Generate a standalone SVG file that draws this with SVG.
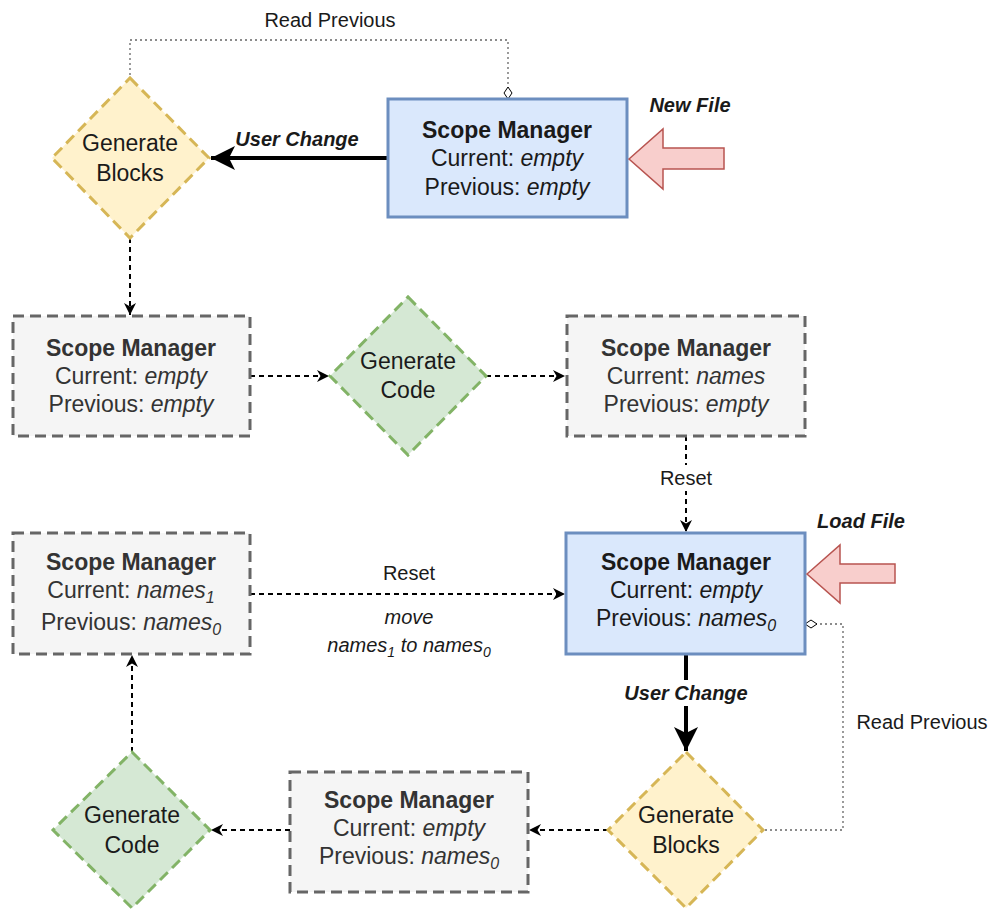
<svg xmlns="http://www.w3.org/2000/svg" width="995" height="911" viewBox="0 0 995 911">
  <style>
    text { font-family: "Liberation Sans", Arial, sans-serif; text-anchor: middle; }
    .n { font-size: 23px; fill: #1a1a1a; }
    .g { font-size: 23px; fill: #333333; }
    .b { font-weight: bold; }
    .i { font-style: italic; }
    .lbl { font-size: 20px; fill: #1a1a1a; }
    .blue { fill: #dae8fc; stroke: #6c8ebf; stroke-width: 3; }
    .gray { fill: #f5f5f5; stroke: #666666; stroke-width: 3; stroke-dasharray: 11 6; }
    .yel { fill: #fff2cc; stroke: #d6b656; stroke-width: 3; stroke-dasharray: 11 6; }
    .grn { fill: #d5e8d4; stroke: #82b366; stroke-width: 3; stroke-dasharray: 11 6; }
    .red { fill: #f8cecc; stroke: #b85450; stroke-width: 1.5; }
    .dash { fill: none; stroke: #000; stroke-width: 2; stroke-dasharray: 5 4; }
    .bold { fill: none; stroke: #000; stroke-width: 4; }
    .dot { fill: none; stroke: #666; stroke-width: 1.3; stroke-dasharray: 2 3; }
  </style>
  <defs>
    <marker id="arr" viewBox="0 0 14 14" refX="13" refY="7" markerWidth="14" markerHeight="14" orient="auto" markerUnits="userSpaceOnUse">
      <path d="M1,1 L13,7 L1,13 L4.5,7 z" fill="#000"/>
    </marker>
    <marker id="arrBig" viewBox="0 0 26 26" refX="25" refY="13" markerWidth="26" markerHeight="26" orient="auto" markerUnits="userSpaceOnUse">
      <path d="M1,1 L25,13 L1,25 L7,13 z" fill="#000"/>
    </marker>
    <marker id="dia" viewBox="0 0 14 10" refX="0.5" refY="5" markerWidth="14" markerHeight="10" orient="auto" markerUnits="userSpaceOnUse">
      <path d="M0.5,5 L6.5,1 L12.5,5 L6.5,9 z" fill="#fff" stroke="#000" stroke-width="1"/>
    </marker>
  </defs>

  <!-- connectors -->
  <g id="connectors">
    <path class="dot" d="M508,99 L508,40 L130,40 L130,78" marker-start="url(#dia)"/>
    <path class="bold" d="M388,158 L211,158" marker-end="url(#arrBig)"/>
    <path class="dash" d="M130,238 L130,315" marker-end="url(#arr)"/>
    <path class="dash" d="M250,376 L329,376" marker-end="url(#arr)"/>
    <path class="dash" d="M486,376 L565,376" marker-end="url(#arr)"/>
    <path class="dash" d="M686,436 L686,532" marker-end="url(#arr)"/>
    <path class="dash" d="M250,594 L565,594" marker-end="url(#arr)"/>
    <path class="bold" d="M686,654 L686,751" marker-end="url(#arrBig)"/>
    <path class="dot" d="M805,624 L843,624 L843,830 L762,830" marker-start="url(#dia)"/>
    <path class="dash" d="M608,830 L529,830" marker-end="url(#arr)"/>
    <path class="dash" d="M290,830 L211,830" marker-end="url(#arr)"/>
    <path class="dash" d="M132,752 L132,655" marker-end="url(#arr)"/>

    <!-- edge labels -->
    <text class="lbl" x="330" y="27">Read Previous</text>
    <text class="lbl b i" x="297" y="146">User Change</text>
    <rect x="650" y="465" width="72" height="26" fill="#fff"/>
    <text class="lbl" x="686" y="485">Reset</text>
    <text class="lbl" x="409" y="580">Reset</text>
    <text class="lbl i" x="409" y="624">move</text>
    <text class="lbl i" x="409" y="652">names<tspan dy="5" font-size="14">1</tspan><tspan dy="-5"> to names</tspan><tspan dy="5" font-size="14">0</tspan></text>
    <rect x="614" y="680" width="144" height="26" fill="#fff"/>
    <text class="lbl b i" x="686" y="700">User Change</text>
    <text class="lbl" x="922" y="729">Read Previous</text>
    <text class="lbl b i" x="690" y="112">New File</text>
    <text class="lbl b i" x="861" y="528">Load File</text>
  </g>

  <!-- top scope manager (new file) -->
  <g id="sm-top">
    <rect class="blue" x="388" y="99" width="239" height="118"/>
    <text class="n b" x="507" y="138">Scope Manager</text>
    <text class="n" x="507" y="166">Current: <tspan class="i">empty</tspan></text>
    <text class="n" x="507" y="195">Previous: <tspan class="i">empty</tspan></text>
  </g>

  <g id="new-file-arrow">
    <path class="red" d="M629,159 L663,129 L663,148 L724,148 L724,169 L663,169 L663,189 z"/>
  </g>

  <g id="gen-blocks-top">
    <path class="yel" d="M130,78 L209,158 L130,238 L52,158 z"/>
    <text class="n" x="130" y="151">Generate</text>
    <text class="n" x="130" y="181">Blocks</text>
  </g>

  <g id="sm-1">
    <rect class="gray" x="13" y="316" width="237" height="120"/>
    <text class="g b" x="131" y="356">Scope Manager</text>
    <text class="g" x="131" y="384">Current: <tspan class="i">empty</tspan></text>
    <text class="g" x="131" y="412">Previous: <tspan class="i">empty</tspan></text>
  </g>

  <g id="gen-code-top">
    <path class="grn" d="M408,297 L486,376 L408,455 L330,376 z"/>
    <text class="n" x="408" y="369">Generate</text>
    <text class="n" x="408" y="398">Code</text>
  </g>

  <g id="sm-2">
    <rect class="gray" x="567" y="316" width="238" height="120"/>
    <text class="g b" x="686" y="356">Scope Manager</text>
    <text class="g" x="686" y="384">Current: <tspan class="i">names</tspan></text>
    <text class="g" x="686" y="412">Previous: <tspan class="i">empty</tspan></text>
  </g>

  <!-- scope manager after load -->
  <g id="sm-load">
    <rect class="blue" x="566" y="533" width="239" height="121"/>
    <text class="n b" x="686" y="570">Scope Manager</text>
    <text class="n" x="686" y="598">Current: <tspan class="i">empty</tspan></text>
    <text class="n" x="686" y="626">Previous: <tspan class="i">names</tspan><tspan class="i" dy="5" font-size="16">0</tspan></text>
  </g>

  <g id="load-file-arrow">
    <path class="red" d="M807,574 L840,545 L840,564 L895,564 L895,583 L840,583 L840,603 z"/>
  </g>

  <g id="sm-3">
    <rect class="gray" x="13" y="533" width="237" height="121"/>
    <text class="g b" x="131" y="570">Scope Manager</text>
    <text class="g" x="131" y="598">Current: <tspan class="i">names</tspan><tspan class="i" dy="5" font-size="16">1</tspan></text>
    <text class="g" x="131" y="630">Previous: <tspan class="i">names</tspan><tspan class="i" dy="5" font-size="16">0</tspan></text>
  </g>

  <g id="gen-blocks-bottom">
    <path class="yel" d="M686,752 L763,830 L686,908 L608,830 z"/>
    <text class="n" x="686" y="823">Generate</text>
    <text class="n" x="686" y="853">Blocks</text>
  </g>

  <g id="sm-4">
    <rect class="gray" x="290" y="772" width="238" height="120"/>
    <text class="g b" x="409" y="808">Scope Manager</text>
    <text class="g" x="409" y="836">Current: <tspan class="i">empty</tspan></text>
    <text class="g" x="409" y="864">Previous: <tspan class="i">names</tspan><tspan class="i" dy="5" font-size="16">0</tspan></text>
  </g>

  <g id="gen-code-bottom">
    <path class="grn" d="M132,752 L210,830 L132,908 L53,830 z"/>
    <text class="n" x="132" y="823">Generate</text>
    <text class="n" x="132" y="853">Code</text>
  </g>
</svg>
